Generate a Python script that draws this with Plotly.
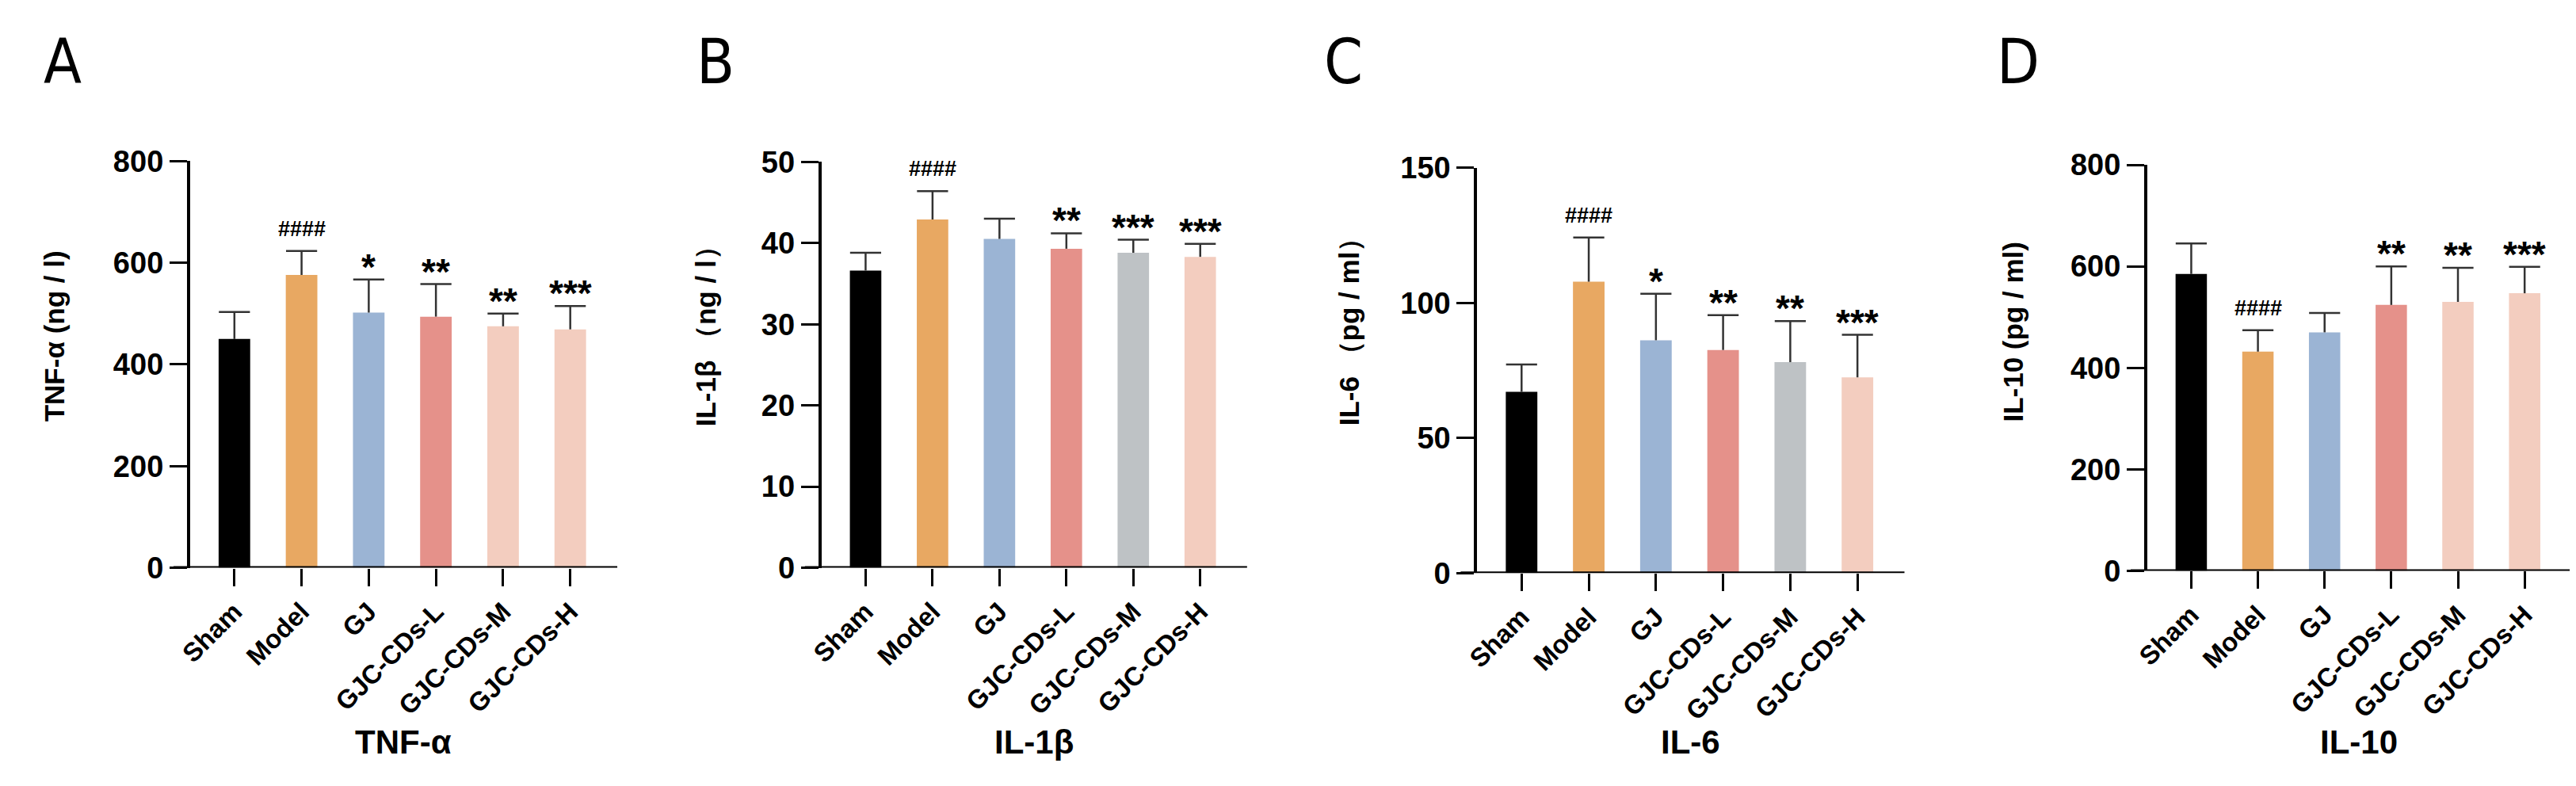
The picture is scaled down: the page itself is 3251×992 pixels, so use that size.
import plotly.graph_objects as go

# groups on the x axis
groups = ["Sham", "Model", "GJ", "GJC-CDs-L", "GJC-CDs-M", "GJC-CDs-H"]

# values (mean, upper SD, significance marks)
tnf_mean = [450, 576, 502, 494, 475, 469]
tnf_sd = [53, 47, 65, 64, 25, 46]
tnf_sig = ["", "####", "*", "**", "**", "***"]

il1b_mean = [36.6, 42.9, 40.5, 39.3, 38.8, 38.3]
il1b_sd = [2.2, 3.5, 2.5, 1.9, 1.6, 1.6]
il1b_sig = ["", "####", "", "**", "***", "***"]

il6_mean = [67.1, 107.9, 86.2, 82.6, 78.1, 72.5]
il6_sd = [10.1, 16.3, 17.2, 12.9, 15.2, 15.7]
il6_sig = ["", "####", "*", "**", "**", "***"]

il10_mean = [585, 432, 470, 524, 530, 547]
il10_sd = [60, 42, 38, 76, 67, 52]
il10_sig = ["", "####", "", "**", "**", "***"]

# bar colours per panel
colors_pink = ["#000000", "#E8A862", "#9BB4D4", "#E5918A", "#F3CDBF", "#F3CDBF"]
colors_grey = ["#000000", "#E8A862", "#9BB4D4", "#E5918A", "#BEC2C5", "#F3CDBF"]

W, H = 3251, 992
FONT = "Liberation Sans, Arial, sans-serif"
NARROW = "Liberation Sans Narrow, Arial Narrow, DejaVu Sans Condensed, Liberation Sans, sans-serif"

panels = [
    dict(mean=tnf_mean, sd=tnf_sd, sig=tnf_sig, colors=colors_pink, ymax=800, dtick=200,
         ytitle="TNF-α (ng / l)", xtitle="TNF-α", letter="A",
         x0=216, x1=758, top=182, bot=718, letter_x=54, ytitle_x=44, ytitle_y=413),
    dict(mean=il1b_mean, sd=il1b_sd, sig=il1b_sig, colors=colors_grey, ymax=50, dtick=10,
         ytitle="IL-1β （ng / l）", xtitle="IL-1β", letter="B",
         x0=1017, x1=1557, top=183, bot=718, letter_x=883, ytitle_x=870, ytitle_y=404),
    dict(mean=il6_mean, sd=il6_sd, sig=il6_sig, colors=colors_grey, ymax=150, dtick=50,
         ytitle="IL-6 （pg / ml）", xtitle="IL-6", letter="C",
         x0=1849, x1=2391, top=191, bot=725, letter_x=1679, ytitle_x=1686, ytitle_y=398),
    dict(mean=il10_mean, sd=il10_sd, sig=il10_sig, colors=colors_pink, ymax=800, dtick=200,
         ytitle="IL-10 (pg / ml)", xtitle="IL-10", letter="D",
         x0=2699, x1=3237, top=187, bot=722, letter_x=2535, ytitle_x=2529, ytitle_y=407),
]


def px(x):
    return x / W


def py(y):
    return 1 - y / H


fig = go.Figure()
annotations = []
shapes = []

for i, p in enumerate(panels):
    n = "" if i == 0 else str(i + 1)
    xa, ya = "x" + n, "y" + n

    fig.add_trace(go.Bar(
        x=groups, y=p["mean"], xaxis=xa, yaxis=ya, width=0.47,
        marker=dict(color=p["colors"], line=dict(width=0)),
        error_y=dict(type="data", symmetric=False, array=p["sd"],
                     arrayminus=[0] * len(p["sd"]), width=0, thickness=2.5,
                     color="#333333"),
        showlegend=False, hoverinfo="skip",
    ))
    # error bar caps
    tops = [m + s for m, s in zip(p["mean"], p["sd"])]
    fig.add_trace(go.Scatter(
        x=groups, y=tops, xaxis=xa, yaxis=ya, mode="markers",
        marker=dict(symbol="line-ew", size=28, line=dict(width=2.5, color="#333333")),
        showlegend=False, hoverinfo="skip", cliponaxis=False,
    ))

    fig.layout["xaxis" + n] = dict(
        domain=[px(p["x0"]), px(p["x1"])], anchor=ya, range=[-0.66, 5.7],
        showline=False, showgrid=False, zeroline=False,
        ticks="outside", ticklen=22, tickwidth=3, tickcolor="black",
        tickangle=-45, tickfont=dict(family=FONT, size=33, color="black", weight="bold"),
        fixedrange=True,
    )
    fig.layout["yaxis" + n] = dict(
        domain=[py(p["bot"]), py(p["top"])], anchor=xa, range=[0, p["ymax"]],
        tickmode="linear", tick0=0, dtick=p["dtick"],
        showline=True, linewidth=4, linecolor="black",
        showgrid=False, zeroline=False,
        ticks="outside", ticklen=22, tickwidth=3, tickcolor="black",
        tickfont=dict(family=FONT, size=38, color="black", weight="bold"),
        fixedrange=True,
    )

    # x axis line, starting left of the y axis as in GraphPad
    shapes.append(dict(type="line", xref="paper", yref=ya,
                       x0=px(p["x0"] - 21), x1=px(p["x1"]), y0=0, y1=0,
                       line=dict(color="black", width=4)))

    # significance marks
    for g, t, s in zip(groups, tops, p["sig"]):
        if not s:
            continue
        is_hash = s.startswith("#")
        annotations.append(dict(
            x=g, y=t, xref=xa, yref=ya, text=s, showarrow=False,
            yanchor="middle", yshift=28 if is_hash else 16,
            font=dict(family=FONT, size=27 if is_hash else 46, color="black",
                      weight="bold"),
        ))

    # panel letter
    annotations.append(dict(x=px(p["letter_x"]), y=py(51), xref="paper", yref="paper",
                            text=p["letter"], showarrow=False, xanchor="center",
                            yanchor="middle",
                            font=dict(family=NARROW, size=78, color="black")))
    # y title
    annotations.append(dict(x=px(p["ytitle_x"]), y=py(p["ytitle_y"]), xref="paper",
                            yref="paper", text=p["ytitle"], showarrow=False,
                            textangle=-90, xanchor="center", yanchor="middle",
                            font=dict(family=FONT, size=35, color="black", weight="bold")))
    # x title
    annotations.append(dict(x=px((p["x0"] + p["x1"]) / 2), y=py(948), xref="paper",
                            yref="paper", text=p["xtitle"], showarrow=False,
                            xanchor="center", yanchor="middle",
                            font=dict(family=FONT, size=42, color="black", weight="bold")))

fig.update_layout(
    width=W, height=H, margin=dict(l=0, r=0, t=0, b=0),
    paper_bgcolor="white", plot_bgcolor="white",
    annotations=annotations, shapes=shapes, bargap=0.5,
)

fig.write_html("out.html")
